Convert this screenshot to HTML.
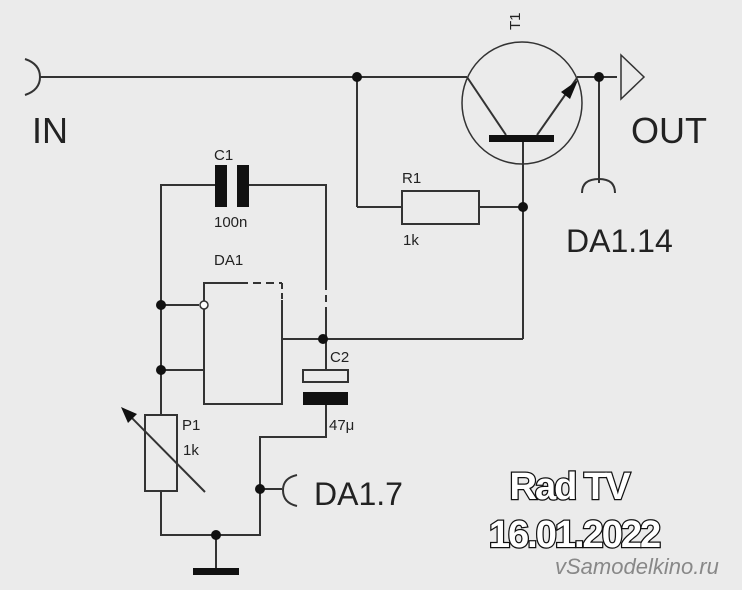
<!DOCTYPE html>
<html><head><meta charset="utf-8"><style>
html,body{margin:0;padding:0;background:#ebebeb;}
svg{display:block}
text{font-family:"Liberation Sans",sans-serif;fill:#222}
</style></head><body>
<svg width="742" height="590" viewBox="0 0 742 590" xmlns="http://www.w3.org/2000/svg">
<rect width="742" height="590" fill="#ebebeb"/>
<g stroke="#333" stroke-width="2" fill="none">
<path d="M25 59 Q40 64 40 77 Q40 90 25 95"/>
<line x1="40" y1="77" x2="467" y2="77"/>
<line x1="357" y1="77" x2="357" y2="207"/>
<ellipse cx="522" cy="103" rx="60" ry="61" stroke-width="1.5"/>
<line x1="467" y1="77" x2="506" y2="135"/>
<line x1="537" y1="135" x2="577" y2="78"/>
<line x1="577" y1="77" x2="617" y2="77"/>
<line x1="523" y1="142" x2="523" y2="339"/>
<path d="M621 55 L644 77 L621 99 Z" stroke-width="1.5"/>
<line x1="599" y1="77" x2="599" y2="183"/>
<path d="M582 193 Q582 179 599 179 Q615 179 615 193"/>
<line x1="357" y1="207" x2="402" y2="207"/>
<rect x="402" y="191" width="77" height="33"/>
<line x1="479" y1="207" x2="523" y2="207"/>
<polyline points="161,415 161,185 215,185"/>
<polyline points="249,185 326,185 326,283"/>
<line x1="326" y1="283" x2="326" y2="310" stroke-dasharray="7,5"/>
<line x1="326" y1="310" x2="326" y2="370"/>
<polyline points="240,283 204,283 204,404 282,404 282,300"/>
<line x1="240" y1="283" x2="282" y2="283" stroke-dasharray="8,5"/>
<line x1="282" y1="283" x2="282" y2="300" stroke-dasharray="6,4"/>
<line x1="161" y1="305" x2="199" y2="305"/>
<line x1="161" y1="370" x2="204" y2="370"/>
<line x1="282" y1="339" x2="523" y2="339"/>
<rect x="303" y="370" width="45" height="12"/>
<polyline points="326,405 326,437 260,437 260,535 161,535 161,491"/>
<line x1="260" y1="489" x2="282" y2="489"/>
<path d="M297 475 Q283 478 283 490 Q283 503 297 506"/>
<rect x="145" y="415" width="32" height="76"/>
<line x1="205" y1="492" x2="126" y2="412"/>
<line x1="216" y1="535" x2="216" y2="568"/>
</g>
<g fill="#111">
<circle cx="357" cy="77" r="5"/>
<circle cx="599" cy="77" r="5"/>
<circle cx="523" cy="207" r="5"/>
<circle cx="161" cy="305" r="5"/>
<circle cx="161" cy="370" r="5"/>
<circle cx="323" cy="339" r="5"/>
<circle cx="260" cy="489" r="5"/>
<circle cx="216" cy="535" r="5"/>
<rect x="489" y="135" width="65" height="7"/>
<rect x="215" y="165" width="12" height="42"/>
<rect x="237" y="165" width="12" height="42"/>
<rect x="303" y="392" width="45" height="13"/>
<rect x="193" y="568" width="46" height="7"/>
<polygon points="578,80 561,92 570,99"/>
<polygon points="121,407 137,414 128,423"/>
</g>
<circle cx="204" cy="305" r="4" fill="#fff" stroke="#333" stroke-width="1.5"/>
<text x="520" y="30" font-size="15" transform="rotate(-90 520 30)">T1</text>
<text x="32" y="143" font-size="36">IN</text>
<text x="631" y="143" font-size="36">OUT</text>
<text x="566" y="252" font-size="32">DA1.14</text>
<text x="402" y="183" font-size="15">R1</text>
<text x="403" y="245" font-size="15">1k</text>
<text x="214" y="160" font-size="15">C1</text>
<text x="214" y="227" font-size="15">100n</text>
<text x="214" y="265" font-size="15">DA1</text>
<text x="330" y="362" font-size="15">C2</text>
<text x="329" y="430" font-size="15">47μ</text>
<text x="182" y="430" font-size="15">P1</text>
<text x="183" y="455" font-size="15">1k</text>
<text x="314" y="505" font-size="32">DA1.7</text>
<g font-family="Liberation Sans,sans-serif" font-weight="bold" text-anchor="middle" stroke="#111" stroke-width="2.5" paint-order="stroke" letter-spacing="-2">
<text x="569" y="499" font-size="38" style="fill:#fff">Rad TV</text>
<text x="574" y="547" font-size="38" style="fill:#fff">16.01.2022</text>
</g>
<text x="555" y="574" font-size="22" font-style="italic" style="fill:#888">vSamodelkino.ru</text>
</svg>
</body></html>
